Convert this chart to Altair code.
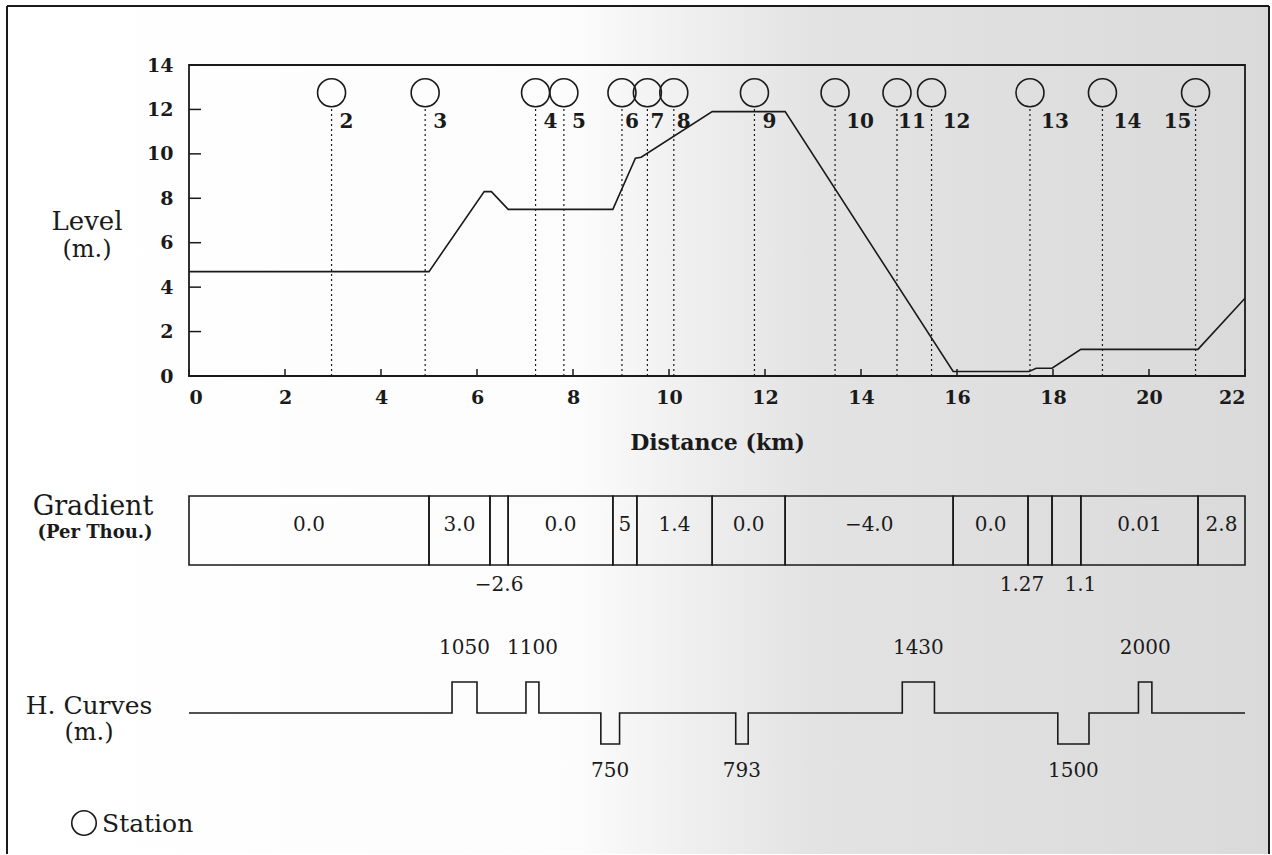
import altair as alt
import pandas as pd

# ---- Longitudinal section of the line -------------------------------------
# Rail level (m) at the break points of the profile, distance in km
profile_km = [0.0, 5.0, 6.15, 6.3, 6.65, 8.83, 9.3, 9.42, 10.9, 12.42,
              15.92, 17.5, 17.65, 17.98, 18.58, 21.02, 22.0]
profile_level = [4.7, 4.7, 8.3, 8.3, 7.5, 7.5, 9.8, 9.85, 11.9, 11.9,
                 0.2, 0.2, 0.35, 0.35, 1.2, 1.2, 3.5]

# Stations along the line
station_names = ["2", "3", "4", "5", "6", "7", "8", "9",
                 "10", "11", "12", "13", "14", "15"]
station_km = [2.97, 4.92, 7.22, 7.81, 9.02, 9.55, 10.1, 11.78,
              13.46, 14.75, 15.47, 17.52, 19.03, 20.97]

# Gradient sections (per thousand) between consecutive break points
grad_breaks = [0.0, 5.0, 6.27, 6.65, 8.83, 9.33, 10.9, 12.42,
               15.92, 17.48, 17.98, 18.58, 21.02, 22.0]
grad_values = ["0.0", "3.0", "\u22122.6", "0.0", "5", "1.4", "0.0",
               "\u22124.0", "0.0", "1.27", "1.1", "0.01", "2.8"]
grad_side = ["in", "in", "below", "in", "in", "in", "in",
             "in", "in", "below", "below", "in", "in"]

# Horizontal curves: start / end (km), radius (m), direction of the curve
curve_start = [5.48, 7.02, 8.58, 11.39, 14.86, 18.10, 19.78]
curve_end = [6.00, 7.29, 8.97, 11.65, 15.53, 18.75, 20.06]
curve_radius = [1050, 1100, 750, 793, 1430, 1500, 2000]
curve_dir = [1, 1, -1, -1, 1, -1, 1]

x_ticks = list(range(0, 23, 2))
y_ticks = list(range(0, 15, 2))

# ---- styling ---------------------------------------------------------------
FONT = "DejaVu Serif"
INK = "#1a1a1a"
W, H = 1056, 311          # plot area of the level panel
GRAD_H = 69               # height of the gradient strip

profile_df = pd.DataFrame({"i": range(len(profile_km)),
                           "km": profile_km, "level": profile_level})
station_df = pd.DataFrame({"name": station_names, "km": station_km})
grad_df = pd.DataFrame({
    "start": grad_breaks[:-1],
    "end": grad_breaks[1:],
    "label": grad_values,
    "side": grad_side,
})
grad_df["mid"] = (grad_df["start"] + grad_df["end"]) / 2

step_rows = [{"i": 0, "km": 0.0, "v": 0}]
for s, e, d in zip(curve_start, curve_end, curve_dir):
    n = len(step_rows)
    step_rows += [{"i": n, "km": s, "v": 0}, {"i": n + 1, "km": s, "v": d},
                  {"i": n + 2, "km": e, "v": d}, {"i": n + 3, "km": e, "v": 0}]
step_rows.append({"i": len(step_rows), "km": 22.0, "v": 0})
step_df = pd.DataFrame(step_rows)
curve_df = pd.DataFrame({"start": curve_start, "end": curve_end,
                         "radius": [str(r) for r in curve_radius],
                         "dir": curve_dir})
curve_df["mid"] = (curve_df["start"] + curve_df["end"]) / 2

one = pd.DataFrame({"k": [0]})

xscale = alt.Scale(domain=[0, 22], nice=False, zero=False)
yscale = alt.Scale(domain=[0, 14], nice=False, zero=False)
xaxis = alt.Axis(values=x_ticks, format="d", labelPadding=12,
                 labelBaseline="top", titlePadding=25, tickSize=0, zindex=2)
yaxis = alt.Axis(values=y_ticks, format="d", labelPadding=16, tickSize=0,
                 zindex=2)


def X(field):
    return alt.X(field, type="quantitative", scale=xscale, axis=xaxis,
                 title="Distance (km)")


def Y(field):
    return alt.Y(field, type="quantitative", scale=yscale, axis=yaxis,
                 title="")


def label(text, x, y, size, weight="normal", align="center"):
    return alt.Chart(one).mark_text(
        font=FONT, fontSize=size, fontWeight=weight, color=INK,
        align=align, baseline="middle"
    ).encode(x=alt.value(x), y=alt.value(y), text=alt.value(text))


# paper background with the darker right-hand side of the sheet
paper = alt.Chart(one).mark_rect(
    fill=alt.Gradient(
        gradient="linear", x1=0, x2=1, y1=0, y2=0,
        stops=[alt.GradientStop(color="#ffffff", offset=0),
               alt.GradientStop(color="#fcfcfc", offset=0.45),
               alt.GradientStop(color="#efefef", offset=0.54),
               alt.GradientStop(color="#e3e3e3", offset=0.64),
               alt.GradientStop(color="#dadada", offset=1)]),
).encode(x=alt.value(-182), x2=alt.value(1080),
         y=alt.value(-59), y2=alt.value(789))

sheet_left = alt.Chart(one).mark_rule(color=INK, strokeWidth=2).encode(
    x=alt.value(-182), y=alt.value(-59), y2=alt.value(789))
sheet_top = alt.Chart(one).mark_rule(color=INK, strokeWidth=2).encode(
    x=alt.value(-182), x2=alt.value(1080), y=alt.value(-59))
sheet_right = alt.Chart(one).mark_rule(color=INK, strokeWidth=2).encode(
    x=alt.value(1080), y=alt.value(-59), y2=alt.value(789))

plot_box = alt.Chart(one).mark_rect(
    fillOpacity=0, stroke=INK, strokeWidth=1.8
).encode(x=alt.value(0), x2=alt.value(W), y=alt.value(0), y2=alt.value(H))

ytick_marks = alt.Chart(pd.DataFrame({"v": y_ticks})).mark_rule(
    color=INK, strokeWidth=1.5
).encode(y=Y("v"), x=alt.value(0), x2=alt.value(12))
xtick_marks = alt.Chart(pd.DataFrame({"v": x_ticks})).mark_rule(
    color=INK, strokeWidth=1.5
).encode(x=X("v"), y=alt.value(H), y2=alt.value(H - 7))

stations = alt.Chart(station_df).transform_calculate(
    foot="0", stem="12.1", ring="12.75", tag="11.45")

stems = stations.mark_rule(
    color=INK, strokeWidth=1.2, strokeDash=[2, 3]
).encode(x=X("km"), y=Y("foot"), y2="stem:Q")
rings = stations.mark_point(
    shape="circle", size=784, filled=False, color=INK, strokeWidth=1.6,
    opacity=1
).encode(x=X("km"), y=Y("ring"))


def station_tags(names, dx):
    return stations.transform_filter(
        alt.FieldOneOfPredicate(field="name", oneOf=names)
    ).mark_text(font=FONT, fontSize=20, fontWeight="bold", color=INK,
                align="center", baseline="middle", dx=dx
    ).encode(x=X("km"), y=Y("tag"), text="name:N")


tags = [
    station_tags(["6", "7", "8"], 10),
    station_tags(["2", "3", "4", "5", "9", "11"], 15),
    station_tags(["10", "12", "13", "14"], 25),
    station_tags(["15"], -18),
]

profile = alt.Chart(profile_df).mark_line(color=INK, strokeWidth=1.6).encode(
    x=X("km"), y=Y("level"), order="i:Q")

level_panel = alt.layer(
    paper, sheet_left, sheet_top, sheet_right, plot_box,
    ytick_marks, xtick_marks, stems, rings, *tags, profile,
    label("Level", -102, 157, 26), label("(m.)", -102, 185, 24),
).properties(width=W, height=H)

# ---- gradient strip --------------------------------------------------------
gx = alt.Scale(domain=[0, 22], nice=False, zero=False)
grad_base = alt.Chart(grad_df)
grad_boxes = grad_base.mark_rect(
    fillOpacity=0, stroke=INK, strokeWidth=1.6
).encode(x=alt.X("start:Q", scale=gx, axis=None), x2="end:Q",
         y=alt.value(0), y2=alt.value(GRAD_H))
grad_in = grad_base.transform_filter(alt.datum.side == "in").mark_text(
    font=FONT, fontSize=20, color=INK, align="center", baseline="middle"
).encode(x=alt.X("mid:Q", scale=gx, axis=None), y=alt.value(29),
         text="label:N")


def grad_under(lbl, dx):
    return grad_base.transform_filter(alt.datum.label == lbl).mark_text(
        font=FONT, fontSize=20, color=INK, align="center",
        baseline="middle", dx=dx
    ).encode(x=alt.X("mid:Q", scale=gx, axis=None), y=alt.value(89),
             text="label:N")


gradient_panel = alt.layer(
    grad_boxes, grad_in,
    grad_under("\u22122.6", 0), grad_under("1.27", -18), grad_under("1.1", 14),
    label("Gradient", -96, 11, 27), label("(Per Thou.)", -94, 37, 18, "bold"),
).properties(width=W, height=GRAD_H)

# ---- horizontal curves -----------------------------------------------------
cx = alt.Scale(domain=[0, 22], nice=False, zero=False)
curve_line = alt.Chart(step_df).mark_line(color=INK, strokeWidth=1.6).encode(
    x=alt.X("km:Q", scale=cx, axis=None),
    y=alt.Y("v:Q", scale=alt.Scale(domain=[-1, 1], range=[59, -3]),
            axis=None),
    order="i:Q")
curve_up = alt.Chart(curve_df).transform_filter(alt.datum.dir > 0).mark_text(
    font=FONT, fontSize=20, color=INK, align="center", baseline="middle"
).encode(x=alt.X("mid:Q", scale=cx, axis=None), y=alt.value(-37),
         text="radius:N")
curve_down = alt.Chart(curve_df).transform_filter(alt.datum.dir < 0).mark_text(
    font=FONT, fontSize=20, color=INK, align="center", baseline="middle"
).encode(x=alt.X("mid:Q", scale=cx, axis=None), y=alt.value(86),
         text="radius:N")

legend_ring = alt.Chart(one).mark_point(
    shape="circle", size=600, filled=False, color=INK, strokeWidth=1.6,
    opacity=1
).encode(x=alt.value(-105), y=alt.value(138))

curve_panel = alt.layer(
    curve_line, curve_up, curve_down,
    label("H. Curves", -100, 21, 25), label("(m.)", -100, 48, 24),
    legend_ring, label("Station", -87, 139, 25, align="left"),
).properties(width=W, height=62)

chart = alt.vconcat(
    level_panel, gradient_panel, curve_panel, spacing=120, bounds="flush"
).properties(
    padding={"left": 6, "top": 5, "right": 0, "bottom": 0},
).configure(background="white").configure_view(strokeWidth=0).configure_axis(
    grid=False, domain=False, ticks=False,
    labelFont=FONT, labelFontSize=19, labelFontWeight="bold", labelColor=INK,
    titleFont=FONT, titleFontSize=22, titleFontWeight="bold", titleColor=INK,
)

chart.save("out.html", embed_options={"renderer": "svg", "actions": False})
